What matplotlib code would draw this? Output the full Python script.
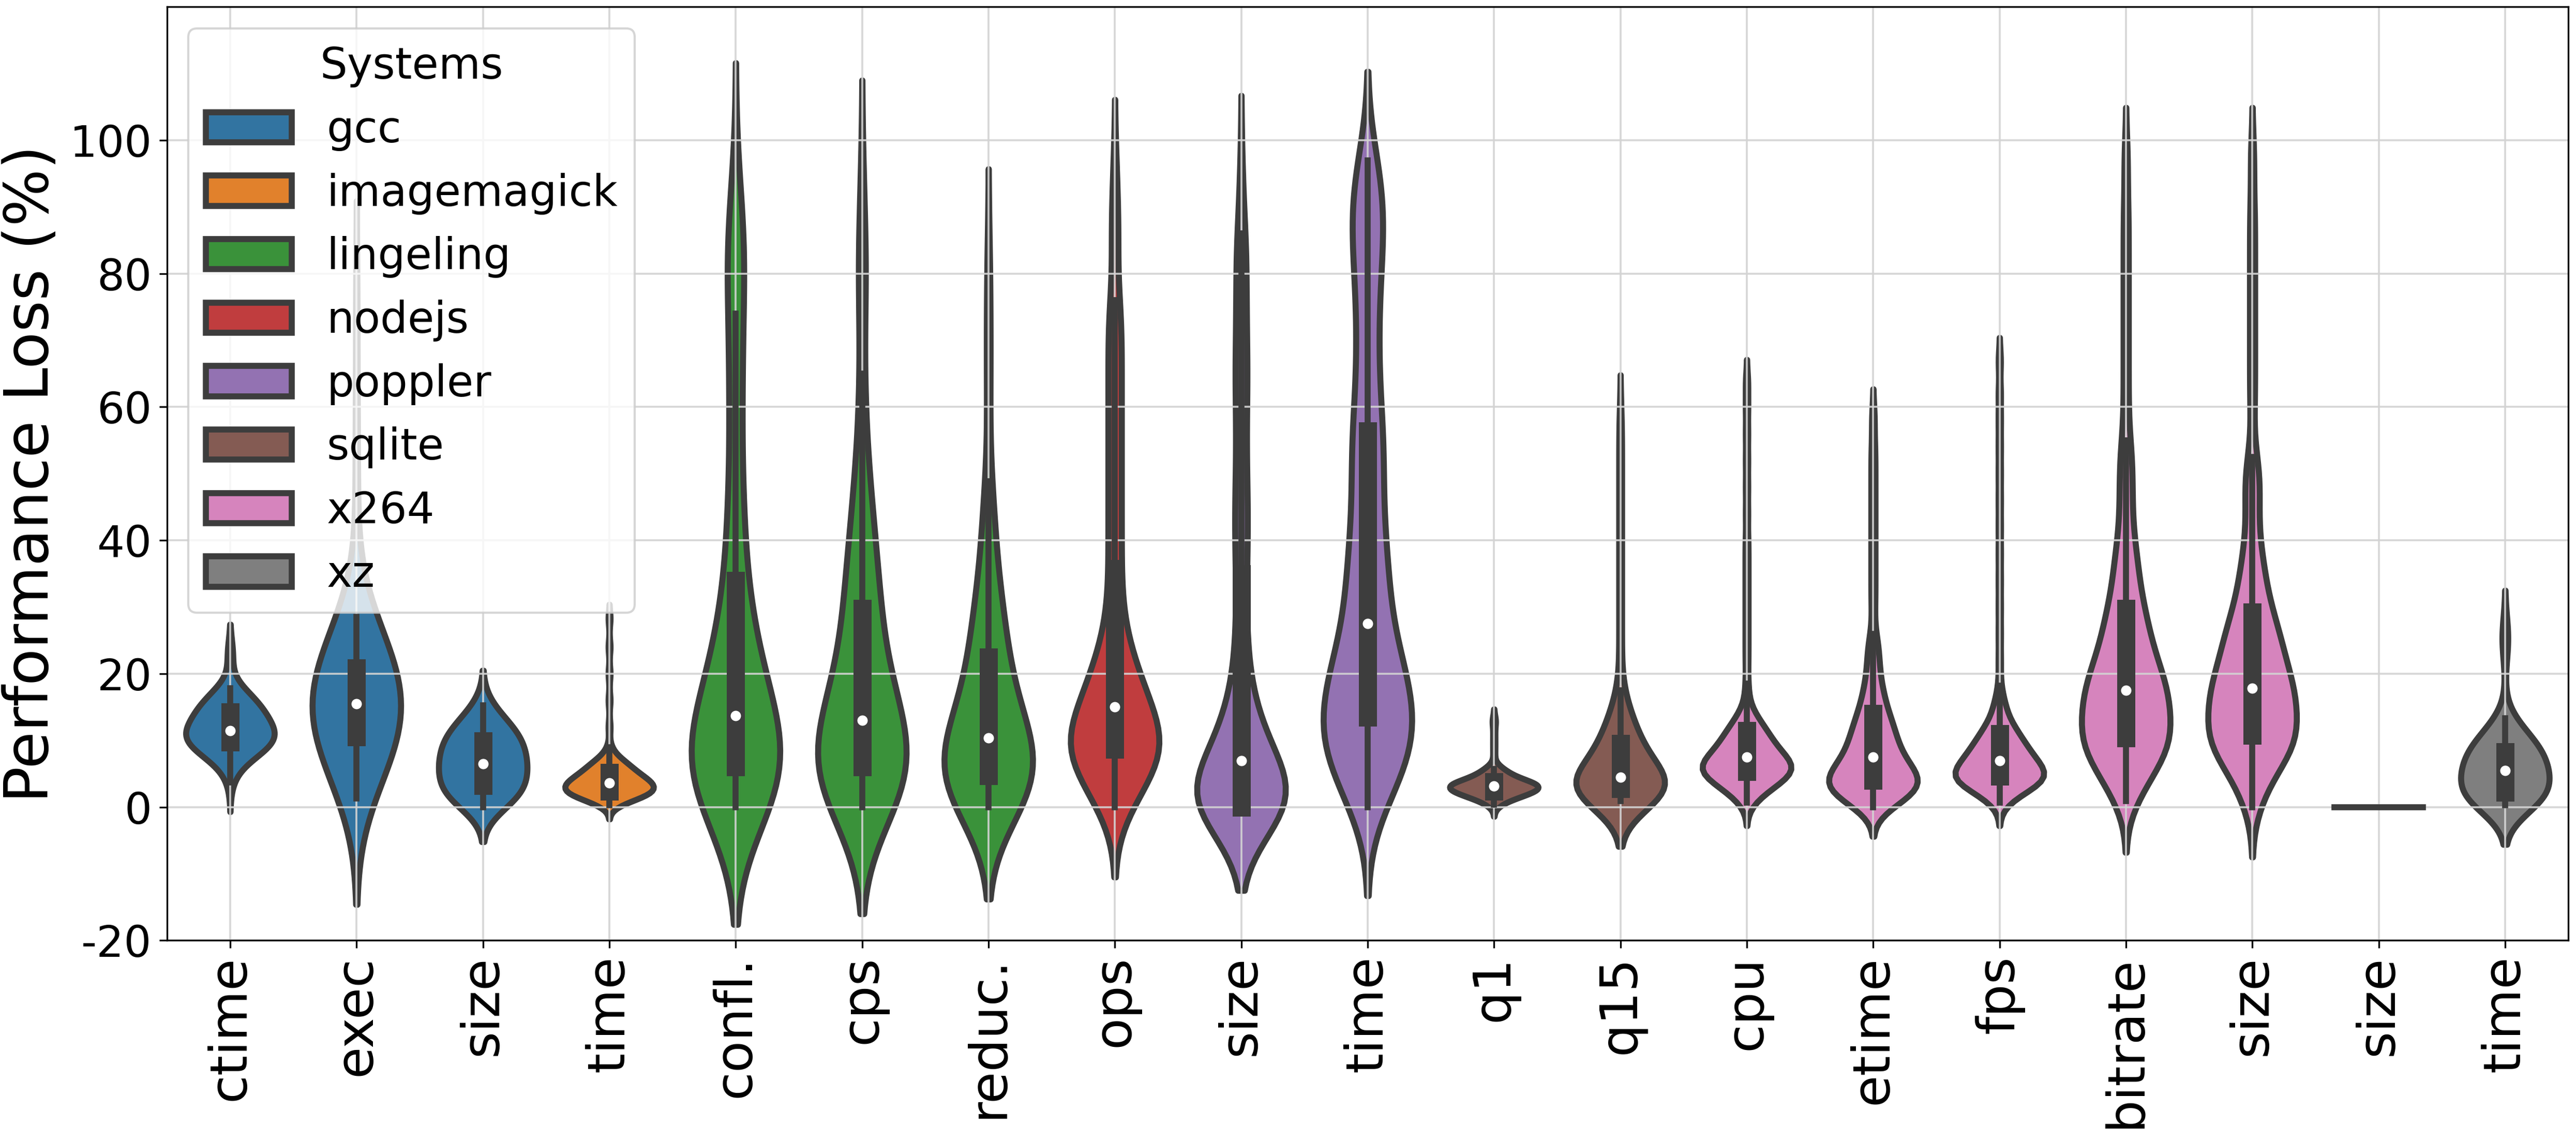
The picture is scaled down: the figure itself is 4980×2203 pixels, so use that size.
import numpy as np
import pandas as pd
import matplotlib
matplotlib.use("Agg")
import matplotlib.pyplot as plt
from matplotlib.patches import Patch
import seaborn as sns
import warnings
warnings.filterwarnings("ignore")

plt.rcParams["axes.unicode_minus"] = False

# ---------------- data (histograms) ----------------
systems = ["gcc", "imagemagick", "lingeling", "nodejs", "poppler", "sqlite", "x264", "xz"]
metric_labels = ["ctime", "exec", "size", "time", "confl.", "cps", "reduc.", "ops", "size",
                 "time", "q1", "q15", "cpu", "etime", "fps", "bitrate", "size", "size", "time"]
metric_systems = ["gcc", "gcc", "gcc", "imagemagick", "lingeling", "lingeling", "lingeling",
                  "nodejs", "poppler", "poppler", "sqlite", "sqlite", "x264", "x264", "x264",
                  "x264", "x264", "xz", "xz"]

gcc_ctime_vals = [3.7, 5, 6, 7, 8, 9, 10, 11, 12, 13, 14, 15, 16, 17, 17.8, 23]
gcc_ctime_counts = [1, 1, 2, 3, 6, 12, 12, 13, 9, 8, 8, 8, 7, 5, 2, 3]

gcc_exec_vals = [1.3, 3, 5, 7, 9, 11, 12.5, 14, 15, 16, 17.5, 19, 20.5, 22, 24, 26, 28.5, 40, 50, 60, 75]
gcc_exec_counts = [2, 3, 5, 6, 9, 6, 7, 6, 6, 6, 7, 6, 6, 6, 6, 5, 4, 1, 1, 1, 1]

gcc_size_vals = [0, 1, 2, 2.5, 3.5, 4.5, 5.5, 6, 7, 8, 9, 9.7, 10.5, 11.5, 12.5, 13.5, 15.3]
gcc_size_counts = [5, 6, 7, 7, 6, 6, 7, 6, 7, 7, 6, 5, 7, 6, 5, 4, 3]

imagemagick_time_vals = [0.3, 1, 1.5, 2, 2.5, 3, 3.4, 3.8, 4.3, 5, 5.6, 6.3, 7, 8, 9, 12, 16, 20, 24, 28.3]
imagemagick_time_counts = [2, 5, 7, 11, 9, 9, 7, 8, 9, 8, 6, 6, 5, 2, 1, 1, 1, 1, 1, 1]

lingeling_confl_vals = [0, 1.5, 3, 4.5, 6.5, 8.5, 10.5, 12.5, 15, 18, 21, 24, 27, 30, 33, 37, 41, 45,
                        50, 55, 60, 65, 70, 74, 80, 84, 88, 94]
lingeling_confl_counts = [6, 6, 7, 6, 7, 6, 6, 6, 5, 5, 4, 4, 3, 2, 2, 2, 2, 2, 2, 1, 2, 2, 2, 1, 3, 3, 2, 1]

lingeling_cps_vals = [0, 1.5, 3, 4.5, 6.5, 8.5, 10.5, 12, 14, 17, 20, 23, 26, 29, 32, 35, 38, 42, 44,
                      46, 50, 55, 60, 65, 75, 80, 86, 93]
lingeling_cps_counts = [6, 6, 7, 6, 7, 6, 6, 6, 5, 5, 5, 4, 3, 3, 4, 3, 3, 2, 1, 2, 2, 1, 1, 1, 1, 2, 1, 1]

lingeling_reduc_vals = [0, 1, 2.5, 3.8, 5, 6.5, 8, 9.8, 11, 13, 15, 17.5, 20, 22, 24, 27, 30, 33, 37,
                        41, 45, 48.9, 60, 67, 74, 81.9]
lingeling_reduc_counts = [6, 6, 7, 6, 7, 6, 6, 6, 5, 5, 5, 4, 3, 3, 4, 4, 3, 3, 2, 2, 2, 1, 1, 1, 1, 1]

nodejs_ops_vals = [0, 2, 4, 6, 7.8, 9, 10.5, 12, 14, 16, 18, 20, 22, 25, 28, 32, 35, 38, 42, 46, 50,
                   54, 58, 62, 66, 70, 74, 76, 85, 90, 95.6]
nodejs_ops_counts = [3, 4, 5, 6, 7, 7, 7, 6, 5, 5, 5, 4, 3, 3, 2, 2, 1, 2, 2, 2, 2, 2, 2, 2, 2, 2, 2,
                     1, 2, 1, 1]

poppler_size_vals = [-0.5, 0, 1, 2.5, 4, 6, 8, 10, 12, 14, 17, 20, 24, 28, 34, 38, 42, 45, 47, 52,
                     57, 62, 65, 67, 72, 77, 82, 86, 94.7]
poppler_size_counts = [3, 23, 5, 7, 6, 6, 4, 4, 4, 3, 2, 2, 2, 2, 2, 2, 2, 1, 2, 2, 2, 2, 1, 2, 2, 2,
                       2, 2, 1]

poppler_time_vals = [0, 2, 4, 6, 8, 10, 12, 14, 16, 18, 20, 22, 24, 26, 29, 32, 35, 38, 41, 44, 47,
                     50, 53, 55.5, 59, 63, 67, 71, 75, 79, 83, 87, 91, 94, 97]
poppler_time_counts = [2, 2, 3, 4, 5, 5, 4, 5, 4, 4, 4, 3, 3, 2, 3, 3, 3, 3, 2, 2, 2, 2, 2, 3, 2, 2,
                       2, 2, 2, 2, 3, 3, 3, 2, 2]

sqlite_q1_vals = [0.4, 1, 1.5, 2, 2.5, 3, 3.3, 3.6, 4.2, 5, 5.5, 5.7, 8, 9.5, 11, 12.9]
sqlite_q1_counts = [2, 4, 7, 12, 13, 12, 13, 12, 8, 6, 4, 2, 1, 1, 1, 2]

sqlite_q15_vals = [0.9, 1.5, 2.2, 2.8, 3.3, 3.7, 4.5, 5.5, 6.5, 7.5, 8.6, 9.5, 11, 12.5, 14, 16,
                   17.5, 22, 26, 30, 34, 38, 42, 46, 50, 54, 58]
sqlite_q15_counts = [4, 8, 13, 9, 9, 7, 6, 5, 5, 5, 4, 5, 5, 4, 3, 2, 1, 1, 1, 1, 1, 1, 1, 1, 1, 1, 1]

x264_cpu_vals = [0.7, 2, 3, 4, 4.7, 5.3, 6, 6.8, 7.5, 8.5, 9.5, 10.4, 11.5, 12.5, 14, 16, 18.5,
                 22, 25, 28, 31, 34, 37, 40, 44, 48, 52, 56, 60, 63.6]
x264_cpu_counts = [2, 4, 6, 7, 6, 8, 9, 8, 7, 7, 6, 5, 5, 4, 3, 1, 1,
                   1, 1, 1, 1, 1, 1, 1, 1, 1, 1, 1, 1, 1]

x264_etime_vals = [0, 1, 2, 3, 4, 5, 6.3, 7.5, 9, 10.5, 12.5, 14, 16, 18, 20, 22, 24, 26,
                   30, 33, 36, 39, 42, 45, 48, 51, 54, 58.3]
x264_etime_counts = [3, 5, 8, 9, 9, 8, 8, 6, 6, 7, 6, 4, 4, 3, 2, 2, 2, 1,
                     1, 1, 1, 1, 1, 1, 1, 1, 1, 1]

x264_fps_vals = [0.7, 1.8, 2.8, 3.8, 4.6, 5.4, 6.2, 7, 8, 9, 9.8, 11, 12, 13.5, 15.5, 18.2,
                 22, 26, 30, 34, 38, 42, 46, 50, 54, 58, 62, 66.9]
x264_fps_counts = [2, 4, 7, 12, 9, 8, 8, 7, 7, 6, 5, 5, 4, 3, 3, 1,
                   1, 1, 1, 1, 1, 1, 1, 1, 1, 1, 1, 1]

x264_bitrate_vals = [0.9, 3, 5, 7, 9, 10.4, 12, 14, 16, 17.5, 19, 21, 23, 25.5, 28.5, 31, 34, 37,
                     40, 44, 48, 52, 55, 60, 65, 70, 75, 80, 85, 90, 97.2]
x264_bitrate_counts = [2, 3, 4, 6, 7, 5, 7, 6, 6, 6, 5, 5, 5, 5, 5, 3, 3, 3, 2, 2, 2, 2, 1,
                       1, 1, 1, 1, 1, 1, 1, 1]

x264_size_vals = [0, 3, 5.5, 7.5, 9.5, 10.8, 12.5, 14.5, 16.5, 17.8, 19.5, 21.5, 23.5, 25.5, 28,
                  30.5, 33, 36, 39, 43, 47, 50, 52.5, 60, 65, 70, 75, 80, 85, 90, 97.4]
x264_size_counts = [2, 3, 4, 6, 7, 5, 7, 6, 6, 6, 5, 5, 5, 5, 5, 3, 3, 3, 2, 2, 2, 2, 1,
                    1, 1, 1, 1, 1, 1, 1, 1]

xz_size_vals = [0]
xz_size_counts = [20]

xz_time_vals = [0.3, 0.8, 1.5, 2.5, 3.5, 5, 6, 7, 8, 9, 10, 11, 12.3, 13.3, 24, 26.6]
xz_time_counts = [5, 8, 12, 8, 9, 8, 8, 9, 8, 6, 6, 5, 3, 1, 2, 2]

hist_vals = [gcc_ctime_vals, gcc_exec_vals, gcc_size_vals, imagemagick_time_vals,
             lingeling_confl_vals, lingeling_cps_vals, lingeling_reduc_vals, nodejs_ops_vals,
             poppler_size_vals, poppler_time_vals, sqlite_q1_vals, sqlite_q15_vals,
             x264_cpu_vals, x264_etime_vals, x264_fps_vals, x264_bitrate_vals, x264_size_vals,
             xz_size_vals, xz_time_vals]
hist_counts = [gcc_ctime_counts, gcc_exec_counts, gcc_size_counts, imagemagick_time_counts,
               lingeling_confl_counts, lingeling_cps_counts, lingeling_reduc_counts, nodejs_ops_counts,
               poppler_size_counts, poppler_time_counts, sqlite_q1_counts, sqlite_q15_counts,
               x264_cpu_counts, x264_etime_counts, x264_fps_counts, x264_bitrate_counts,
               x264_size_counts, xz_size_counts, xz_time_counts]

# KDE bandwidth (smoothing, in data units) per violin
kde_bw = [2.2, 7.95, 2.6, 1.05, 8.8, 8.0, 6.9, 5.25, 6.0, 6.65, 0.9, 3.4, 1.75, 2.2, 1.75,
          3.85, 3.75, 0.0, 2.95]

# ---------------- style ----------------
LW = 2.8
GRAY = "#3d3d3d"
VWIDTH = 0.7
base = sns.color_palette("tab10", len(systems))
palette = {s: c for s, c in zip(systems, base)}
desat = {s: sns.desaturate(c, 0.75) for s, c in palette.items()}

fig = plt.figure(figsize=(4981 / 300, 2203 / 300), dpi=300)
ax = fig.add_axes([0.0648, 0.175, 0.932, 0.819])

keys = [f"{s}:{m}" for s, m in zip(metric_systems, metric_labels)]

for i, (key, sysname) in enumerate(zip(keys, metric_systems)):
    data = np.repeat(np.asarray(hist_vals[i], float), hist_counts[i])
    if np.ptp(data) == 0:
        ax.plot([i - VWIDTH / 2, i + VWIDTH / 2], [data[0], data[0]], color=GRAY, lw=LW,
                solid_capstyle="projecting", zorder=2)
        continue
    df = pd.DataFrame({"key": key, "value": data})
    sns.violinplot(data=df, x="key", y="value", order=keys, color=palette[sysname],
                   saturation=0.75, inner=None, density_norm="width", width=VWIDTH, cut=2,
                   bw_method=kde_bw[i] / np.std(data, ddof=1), linewidth=LW, linecolor=GRAY,
                   ax=ax)
    q1, med, q3 = np.percentile(data, [25, 50, 75])
    iqr = q3 - q1
    lo = data[data >= q1 - 1.5 * iqr].min()
    hi = data[data <= q3 + 1.5 * iqr].max()
    ax.plot([i, i], [lo, hi], color=GRAY, lw=LW, solid_capstyle="projecting", zorder=2)
    ax.plot([i, i], [q1, q3], color=GRAY, lw=3 * LW, solid_capstyle="projecting", zorder=2)
    ax.scatter([i], [med], s=(2 * LW) ** 2, color="white", edgecolor=GRAY, linewidths=0.8,
               zorder=3)

ax.set_xlim(-0.5, len(keys) - 0.5)
ax.set_ylim(-20, 120)
ax.set_xticks(range(len(keys)))
ax.set_xticklabels(metric_labels, rotation=90, fontsize=24)
ax.set_yticks([-20, 0, 20, 40, 60, 80, 100])
ax.tick_params(axis="y", labelsize=20)
ax.set_xlabel("")
ax.set_ylabel("Performance Loss (%)", fontsize=28)
ax.set_axisbelow("line")
ax.grid(True, color="lightgray", linewidth=0.9, alpha=0.9)

handles = [Patch(facecolor=desat[s], edgecolor=GRAY, linewidth=LW, label=s) for s in systems]
ax.legend(handles=handles, title="Systems", loc="upper left", fontsize=20, title_fontsize=20)

fig.savefig("out.png", dpi=300)
